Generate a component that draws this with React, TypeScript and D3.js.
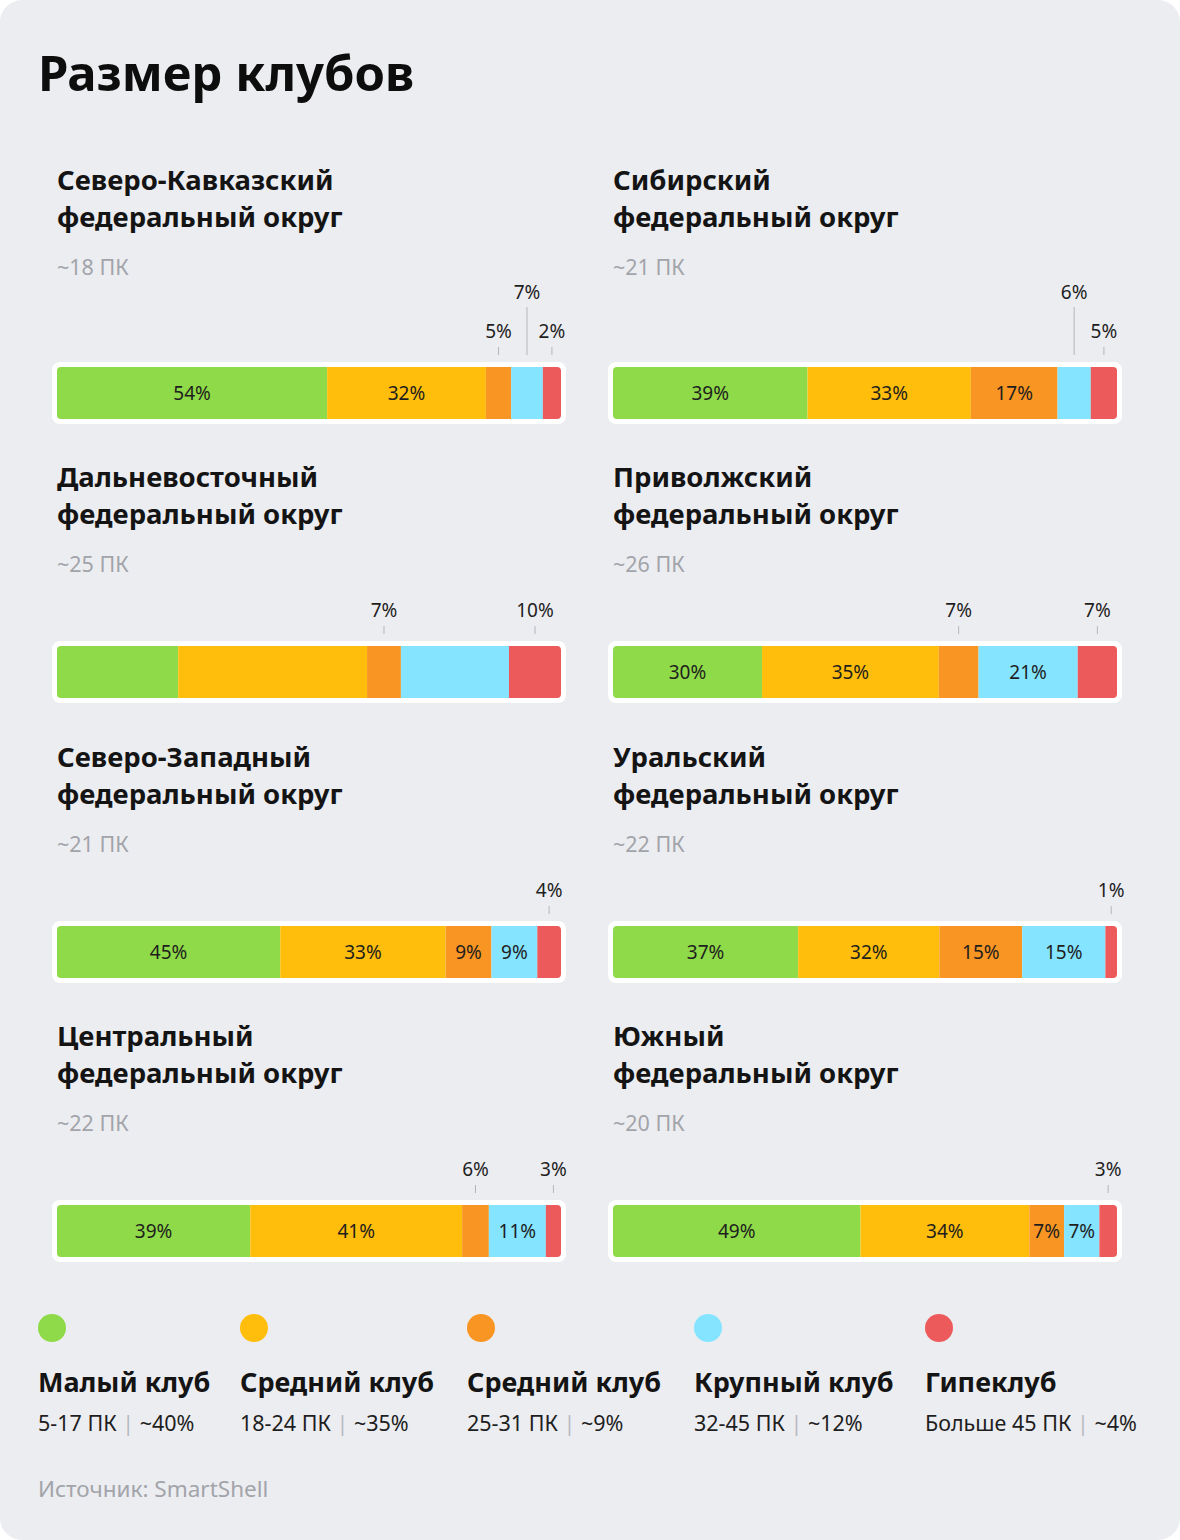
import React from "react";
import * as d3 from "d3";

const W = 1180;
const H = 1540;

const categories = ["Малый клуб", "Средний клуб", "Средний клуб", "Крупный клуб", "Гипеклуб"];
const categoryRanges = ["5-17 ПК", "18-24 ПК", "25-31 ПК", "32-45 ПК", "Больше 45 ПК"];
const categoryShares = ["~40%", "~35%", "~9%", "~12%", "~4%"];
const colors = ["#8FDA48", "#FFBD0C", "#F99522", "#85E4FF", "#EC5A5B"];

const regionNames = [
  "Северо-Кавказский", "Сибирский",
  "Дальневосточный", "Приволжский",
  "Северо-Западный", "Уральский",
  "Центральный", "Южный",
];
const regionClubs = ["~18 ПК", "~21 ПК", "~25 ПК", "~26 ПК", "~21 ПК", "~22 ПК", "~22 ПК", "~20 ПК"];

// segment shares as drawn
const nkValues = [53.6, 31.5, 5.0, 6.3, 3.6];
const sibValues = [38.6, 32.4, 17.2, 6.6, 5.2];
const dvValues = [24.0, 37.4, 6.7, 21.4, 10.3];
const pfValues = [29.6, 35.1, 7.9, 19.7, 7.8];
const szValues = [44.3, 32.8, 9.1, 9.1, 4.7];
const urValues = [36.7, 28.0, 16.4, 16.5, 2.3];
const cfValues = [38.3, 42.0, 5.3, 11.3, 3.0];
const yuValues = [49.1, 33.5, 6.9, 7.0, 3.5];

// printed percentage labels
const nkLabels = ["54%", "32%", "5%", "7%", "2%"];
const sibLabels = ["39%", "33%", "17%", "6%", "5%"];
const dvLabels = ["", "", "7%", "", "10%"];
const pfLabels = ["30%", "35%", "7%", "21%", "7%"];
const szLabels = ["45%", "33%", "9%", "9%", "4%"];
const urLabels = ["37%", "32%", "15%", "15%", "1%"];
const cfLabels = ["39%", "41%", "6%", "11%", "3%"];
const yuLabels = ["49%", "34%", "7%", "7%", "3%"];

// label placement: "in" inside bar, "up" above, "up2" above on second level
const nkPlace = ["in", "in", "up", "up2", "up"];
const sibPlace = ["in", "in", "in", "up2", "up"];
const dvPlace = ["in", "in", "up", "in", "up"];
const pfPlace = ["in", "in", "up", "in", "up"];
const szPlace = ["in", "in", "in", "in", "up"];
const urPlace = ["in", "in", "in", "in", "up"];
const cfPlace = ["in", "in", "up", "in", "up"];
const yuPlace = ["in", "in", "in", "in", "up"];

const allValues = [nkValues, sibValues, dvValues, pfValues, szValues, urValues, cfValues, yuValues];
const allLabels = [nkLabels, sibLabels, dvLabels, pfLabels, szLabels, urLabels, cfLabels, yuLabels];
const allPlace = [nkPlace, sibPlace, dvPlace, pfPlace, szPlace, urPlace, cfPlace, yuPlace];

const FONT = "'Noto Sans', sans-serif";
const colX = [57, 613];
const barW = 504;
const barH = 52;
const rowBarTop = [367, 646, 926, 1205];

function Panel({ idx }: { idx: number }) {
  const col = idx % 2;
  const row = Math.floor(idx / 2);
  const x0 = colX[col];
  const y0 = rowBarTop[row];
  const values = allValues[idx];
  const labels = allLabels[idx];
  const place = allPlace[idx];
  const total = d3.sum(values);
  const x = d3.scaleLinear().domain([0, total]).range([x0, x0 + barW]);
  const ends = d3.cumsum(values);
  const rowHas2 = allPlace[row * 2].includes("up2") || allPlace[row * 2 + 1].includes("up2");
  const titleTop = y0 - (rowHas2 ? 188 : 170);
  const clipId = `clip-${idx}`;
  return (
    <g>
      <text x={x0} y={titleTop} dominantBaseline="central" fontFamily={FONT} fontWeight={700} fontSize={27.5} fill="#141414">
        {regionNames[idx]}
      </text>
      <text x={x0} y={titleTop + 37} dominantBaseline="central" fontFamily={FONT} fontWeight={700} fontSize={27.5} fill="#141414">
        федеральный округ
      </text>
      <text x={x0} y={titleTop + 87} dominantBaseline="central" fontFamily={FONT} fontSize={21.5} fill="#A2A4AA">
        {regionClubs[idx]}
      </text>
      <rect x={x0 - 5} y={y0 - 5} width={barW + 10} height={barH + 10} rx={8} fill="#ffffff" />
      <clipPath id={clipId}>
        <rect x={x0} y={y0} width={barW} height={barH} rx={4} />
      </clipPath>
      <g clipPath={`url(#${clipId})`}>
        {values.map((v, i) => (
          <rect key={i} x={x(ends[i] - v)} y={y0} width={x(ends[i]) - x(ends[i] - v)} height={barH} fill={colors[i]} />
        ))}
      </g>
      {values.map((v, i) => {
        const cx = (x(ends[i] - v) + x(ends[i])) / 2;
        const lab = labels[i];
        if (!lab) return null;
        if (place[i] === "in") {
          return (
            <text key={i} x={cx} y={y0 + barH / 2} textAnchor="middle" dominantBaseline="central" fontFamily={FONT} fontSize={19} fill="#1E1E1E">
              {lab}
            </text>
          );
        }
        const two = place[i] === "up2";
        const ly = two ? y0 - 75 : y0 - 36;
        return (
          <g key={i}>
            <line x1={cx} x2={cx} y1={two ? y0 - 60 : y0 - 20} y2={y0 - 12} stroke="#B4B6BB" strokeWidth={1} />
            <text x={cx} y={ly} textAnchor="middle" dominantBaseline="central" fontFamily={FONT} fontSize={19} fill="#1E1E1E">
              {lab}
            </text>
          </g>
        );
      })}
    </g>
  );
}

const legendX = [38, 240, 467, 694, 925];

export default function App() {
  return (
    <svg width={W} height={H} style={{ position: "absolute", left: 0, top: 0, display: "block" }}>
      <rect x={0} y={0} width={W} height={H} fill="#ffffff" />
      <rect x={0} y={0} width={W} height={H} rx={22} fill="#ECEDF1" />
      <text x={38} y={72} dominantBaseline="central" fontFamily={FONT} fontWeight={700} fontSize={49} fill="#0D0D0D">
        Размер клубов
      </text>
      {regionNames.map((_, i) => (
        <Panel key={i} idx={i} />
      ))}
      {categories.map((c, i) => (
        <g key={i}>
          <circle cx={legendX[i] + 14} cy={1328} r={14} fill={colors[i]} />
          <text x={legendX[i]} y={1381} dominantBaseline="central" fontFamily={FONT} fontWeight={700} fontSize={27} fill="#141414">
            {c}
          </text>
          <text x={legendX[i]} y={1422} dominantBaseline="central" fontFamily={FONT} fontSize={21.5} fill="#1E1E1E">
            {categoryRanges[i]}
            <tspan fill="#B8BABF"> | </tspan>
            {categoryShares[i]}
          </text>
        </g>
      ))}
      <text x={38} y={1488} dominantBaseline="central" fontFamily={FONT} fontSize={22.5} fill="#A2A4AA">
        Источник: SmartShell
      </text>
    </svg>
  );
}
